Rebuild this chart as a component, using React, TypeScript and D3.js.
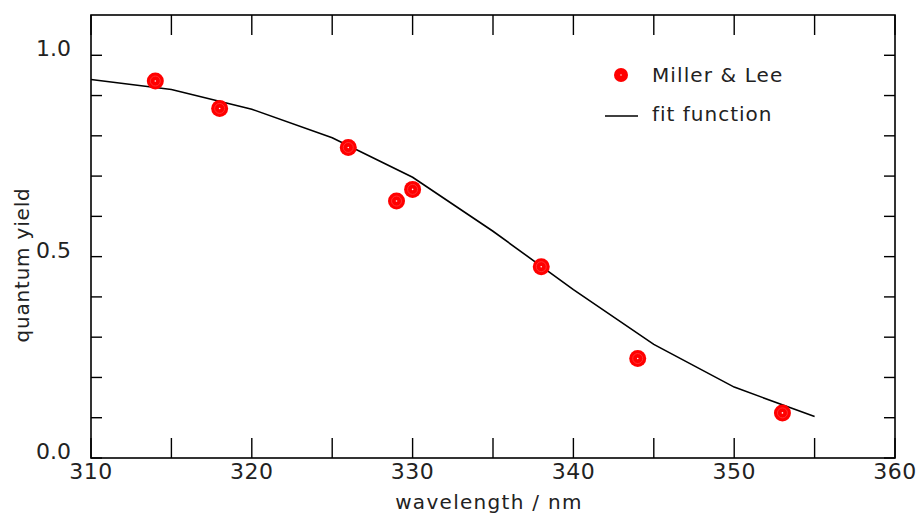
import React from "react";
import * as d3 from "d3";

// measured points (Miller & Lee)
const pointWl = [314, 318, 326, 329, 330, 338, 344, 353];
const pointQy = [0.936, 0.868, 0.771, 0.638, 0.667, 0.475, 0.247, 0.112];

// fit function, sampled every 5 nm
const fitWl = [310, 315, 320, 325, 330, 335, 340, 345, 350, 355];
const fitQy = [0.94, 0.915, 0.866, 0.795, 0.697, 0.563, 0.418, 0.282, 0.176, 0.103];

const xTicks = [310, 315, 320, 325, 330, 335, 340, 345, 350, 355, 360];
const xLabels = [310, 320, 330, 340, 350, 360];
const yTicks = [0, 0.1, 0.2, 0.3, 0.4, 0.5, 0.6, 0.7, 0.8, 0.9, 1.0];
const yLabels = [0, 0.5, 1.0];

const W = 921;
const H = 516;
const margin = { left: 91, right: 26, top: 15, bottom: 58 };
const FONT = "DejaVu Sans";

export default function App() {
  const x = d3.scaleLinear().domain([310, 360]).range([margin.left, W - margin.right]);
  const y = d3.scaleLinear().domain([0, 1.1]).range([H - margin.bottom, margin.top]);

  const line = d3
    .line<number>()
    .x((d, i) => x(fitWl[i]))
    .y((d) => y(d));

  const x0 = x(310), x1 = x(360), y0 = y(0), y1 = y(1.1);

  return (
    <svg
      width={W}
      height={H}
      style={{ position: "absolute", left: 0, top: 0, background: "#fff" }}
      fontFamily={FONT}
    >
      {/* frame */}
      <rect x={x0} y={y1} width={x1 - x0} height={y0 - y1} fill="none" stroke="#000" strokeWidth={1.6} />

      {/* x ticks, bottom and top, pointing inward */}
      {xTicks.map((t) => (
        <g key={"xt" + t}>
          <line x1={x(t)} x2={x(t)} y1={y0} y2={y0 - 20} stroke="#000" strokeWidth={1.4} />
          <line x1={x(t)} x2={x(t)} y1={y1} y2={y1 + 20} stroke="#000" strokeWidth={1.4} />
        </g>
      ))}
      {xLabels.map((t) => (
        <text key={"xl" + t} x={x(t)} y={y0 + 21} fontSize={22} textAnchor="middle" fill="#222" letterSpacing={0.5}>
          {t}
        </text>
      ))}

      {/* y ticks, left and right */}
      {yTicks.map((t) => (
        <g key={"yt" + t}>
          <line x1={x0} x2={x0 + 11} y1={y(t)} y2={y(t)} stroke="#000" strokeWidth={1.4} />
          <line x1={x1} x2={x1 - 11} y1={y(t)} y2={y(t)} stroke="#000" strokeWidth={1.4} />
        </g>
      ))}
      {yLabels.map((t) => (
        <text key={"yl" + t} x={x0 - 20} y={y(t) + 1} fontSize={22} textAnchor="end" fill="#222">
          {d3.format(".1f")(t)}
        </text>
      ))}

      {/* axis titles */}
      <text x={489} y={509} fontSize={20} textAnchor="middle" fill="#222" letterSpacing={1.3}>
        wavelength / nm
      </text>
      <text
        transform={`translate(29,${265}) rotate(-90)`}
        fontSize={20}
        textAnchor="middle"
        fill="#222"
        letterSpacing={0.8}
      >
        quantum yield
      </text>

      {/* fit function */}
      <path d={line(fitQy) || ""} fill="none" stroke="#000" strokeWidth={1.6} />

      {/* data points */}
      {pointWl.map((wl, i) => (
        <g key={"p" + i}>
          <circle cx={x(wl)} cy={y(pointQy[i])} r={8.5} fill="#ff0000" />
          <circle cx={x(wl)} cy={y(pointQy[i])} r={5} fill="none" stroke="#ff3030" strokeWidth={1} />
          <circle cx={x(wl)} cy={y(pointQy[i])} r={0.8} fill="#fff" />
        </g>
      ))}

      {/* legend */}
      <g>
        <circle cx={621} cy={75} r={7} fill="#ff0000" />
        <circle cx={621} cy={75} r={0.7} fill="#fff" />
        <text x={652} y={82} fontSize={20} fill="#222" letterSpacing={1.1}>Miller &amp; Lee</text>
        <line x1={605} x2={638} y1={116} y2={116} stroke="#000" strokeWidth={1.6} />
        <text x={652} y={121} fontSize={20} fill="#222" letterSpacing={1}>fit function</text>
      </g>
    </svg>
  );
}
